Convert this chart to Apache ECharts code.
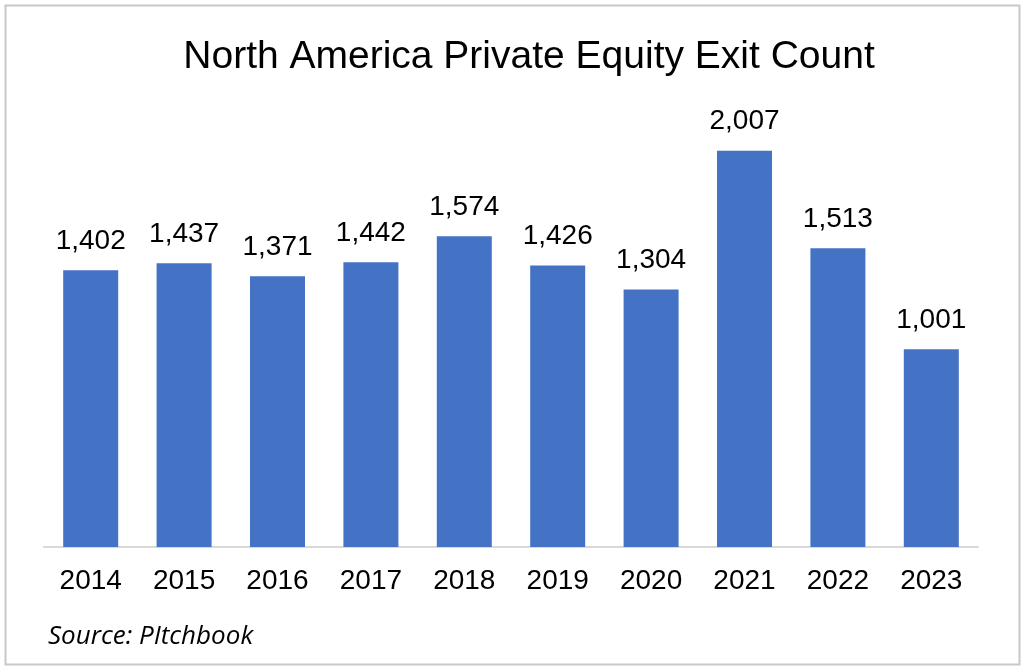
<!DOCTYPE html>
<html>
<head>
<meta charset="utf-8">
<script src="https://cdn.jsdelivr.net/npm/echarts@6/dist/echarts.min.js"></script>
<style>
html,body{margin:0;padding:0;background:#fff;}
#c{width:1024px;height:666px;}
</style>
</head>
<body>
<div id="c"></div>
<script>
const years = ['2014','2015','2016','2017','2018','2019','2020','2021','2022','2023'];
const exitCounts = [1402,1437,1371,1442,1574,1426,1304,2007,1513,1001];
const titleText = 'North America Private Equity Exit Count';
const sourceText = 'Source: PItchbook';

const chart = echarts.init(document.getElementById('c'), null, {renderer:'canvas'});
chart.setOption({
  backgroundColor:'#fff',
  animation:false,
  grid:{left:44, right:46, top:53.4, bottom:119, containLabel:false},
  xAxis:{
    type:'category', data:years,
    axisLine:{show:true, lineStyle:{color:'#D9D9D9', width:2}},
    axisTick:{show:false},
    axisLabel:{color:'#000', fontSize:28, fontFamily:'Liberation Sans, Arial', margin:20}
  },
  yAxis:{
    type:'value', min:0, max:2500,
    show:false, splitLine:{show:false}
  },
  series:[{
    type:'bar', data:exitCounts, barWidth:55,
    itemStyle:{color:'#4472C4'},
    label:{show:true, position:'top', distance:15, color:'#000', fontSize:28,
      fontFamily:'Liberation Sans, Arial',
      formatter:p=>p.value.toLocaleString('en-US')}
  }],
  graphic:[
    {type:'rect', left:3, top:3, shape:{width:1014, height:659},
     style:{fill:'none', stroke:'#C8C8C8', lineWidth:2}},
    {type:'text', x:529, y:57.5, style:{text:titleText, fill:'#000', font:'39px "Liberation Sans", Arial',
      textAlign:'center', textVerticalAlign:'middle'}},
    {type:'text', x:48, y:637, style:{text:sourceText, fill:'#000', font:'italic 26px "Open Sans", sans-serif',
      textAlign:'left', textVerticalAlign:'middle'}}
  ]
});
</script>
</body>
</html>
